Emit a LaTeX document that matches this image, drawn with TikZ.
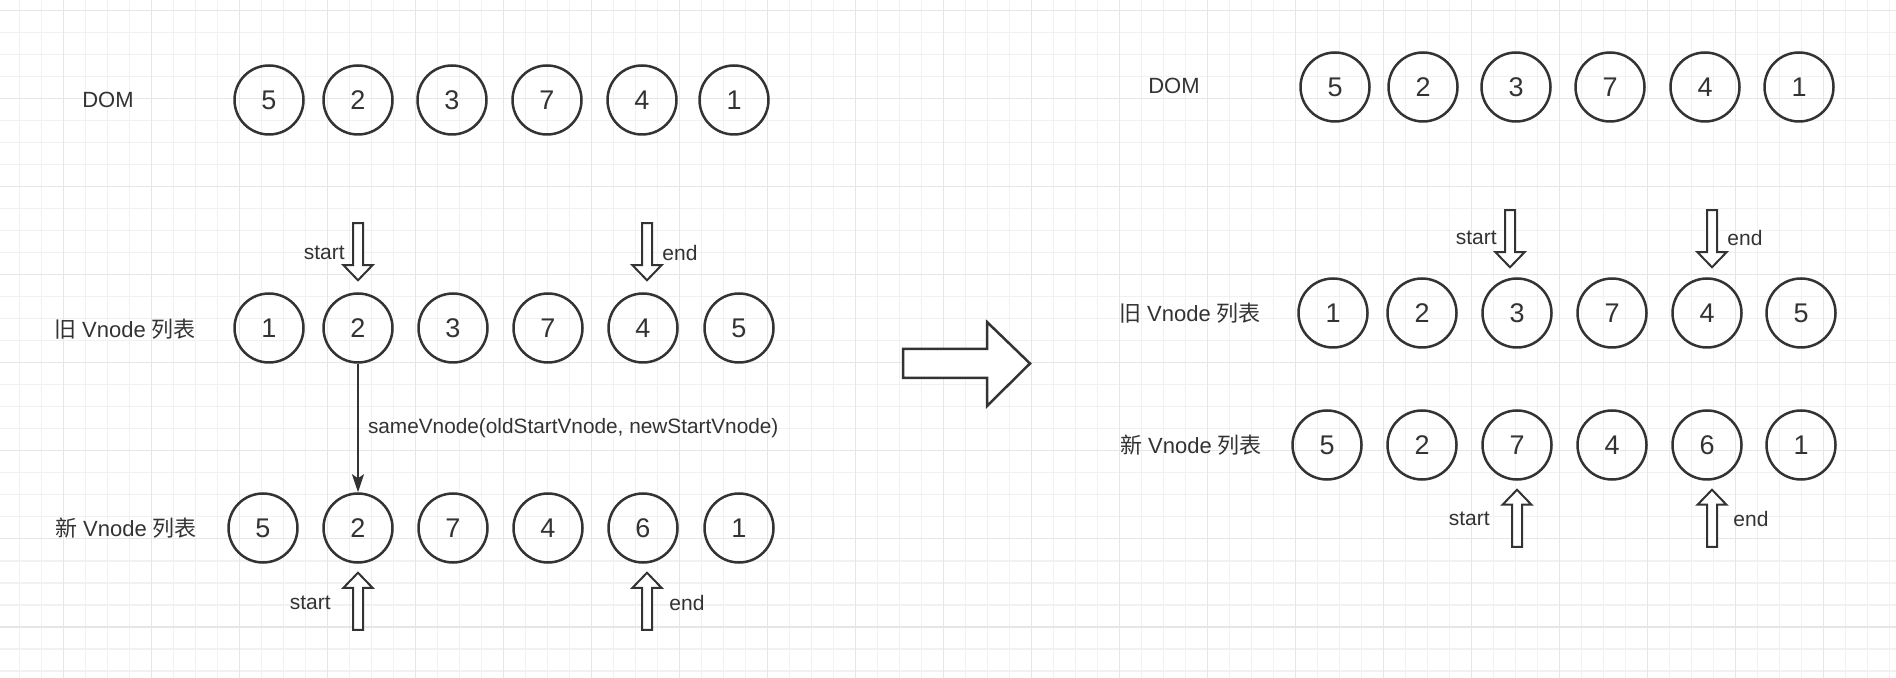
\documentclass[tikz,border=0pt]{standalone}
\usepackage{fontspec}
\setmainfont{Liberation Sans}
\newfontfamily\cjk{Noto Sans CJK SC}
\usepackage{tikz}
\usetikzlibrary{arrows.meta,calc}
\definecolor{inkgray}{HTML}{333333}
\definecolor{gridminor}{HTML}{F1F1F1}
\definecolor{gridmajor}{HTML}{E6E6E6}

\begin{document}
\begin{tikzpicture}[x=0.5pt, y=-0.5pt,
    vnode/.style={circle, draw=inkgray, line width=1.25pt, minimum size=34.5pt, inner sep=0pt, text=inkgray, font=\fontsize{13.5}{16}\selectfont},
    rowlabel/.style={text=inkgray, font=\fontsize{11}{13}\selectfont},
    tag/.style={text=inkgray, inner sep=0pt, font=\fontsize{10.5}{12}\selectfont},
    pointer/.pic={\draw[inkgray, line width=1pt, fill=white, line join=miter] (-5,0) -- (-5,42) -- (-14.5,42) -- (0,57) -- (14.5,42) -- (5,42) -- (5,0) -- cycle;}]
    \useasboundingbox (0,0) rectangle (1896,678);

    % Grid
    \fill[white] (0,0) rectangle (1896,678);
    \foreach \i in {0,...,85} \draw[gridminor, line width=0.8pt] (19.3+22*\i,0) -- (19.3+22*\i,678);
    \foreach \i in {0,...,30} \draw[gridminor, line width=0.8pt] (0,10.7+22*\i) -- (1896,10.7+22*\i);
    \foreach \i in {0,...,20} \draw[gridmajor, line width=0.8pt] (63.3+88*\i,0) -- (63.3+88*\i,678);
    \foreach \i in {0,...,7} \draw[gridmajor, line width=0.8pt] (0,10.7+88*\i) -- (1896,10.7+88*\i);

    % Left: DOM
    \node[rowlabel] (ldom) at (108,100) {DOM};
    \foreach \v/\x [count=\i] in {5/269,2/358,3/452,7/547,4/642,1/734}
        \node[vnode] (ld\i) at (\x,100) {\v};

    % Left: old vnodes
    \node[rowlabel] (lold) at (125,329) {{\cjk 旧} Vnode {\cjk 列表}};
    \foreach \v/\x [count=\i] in {1/269,2/358,3/453,7/548,4/643,5/739}
        \node[vnode] (lo\i) at (\x,328) {\v};
    \pic at ($(lo2.north)+(0,-69)$) {pointer};
    \pic at ($(lo5.north)+(4,-69)$) {pointer};
    \node[tag, anchor=east] (lostart) at (345,253) {start};
    \node[tag, anchor=west] (loend) at (662,253) {end};

    % Left: new vnodes
    \node[rowlabel] (lnew) at (126,528) {{\cjk 新} Vnode {\cjk 列表}};
    \foreach \v/\x [count=\i] in {5/263,2/358,7/453,4/548,6/643,1/739}
        \node[vnode] (ln\i) at (\x,528) {\v};
    \pic[rotate=180] at ($(ln2.south)+(0,66)$) {pointer};
    \pic[rotate=180] at ($(ln5.south)+(4,66)$) {pointer};
    \node[tag, anchor=east] (lnstart) at (331,603) {start};
    \node[tag, anchor=west] (lnend) at (669,603) {end};

    % Compare
    \draw[inkgray, line width=1pt, -{Stealth[length=9pt, width=6pt, inset=2pt]}] (lo2) -- (ln2)
        node[midway, right=4.5pt, tag, font=\fontsize{10.4}{12}\selectfont] (same) {sameVnode(oldStartVnode, newStartVnode)};

    % Big arrow
    \draw[inkgray, line width=1.25pt, fill=white] (903,349) -- (987,349) -- (987,322) -- (1030,363.5) -- (987,406) -- (987,378) -- (903,378) -- cycle;

    % Right: DOM
    \node[rowlabel] (rdom) at (1174,86) {DOM};
    \foreach \v/\x [count=\i] in {5/1335,2/1423,3/1516,7/1610,4/1705,1/1799}
        \node[vnode] (rd\i) at (\x,87) {\v};

    % Right: old vnodes
    \node[rowlabel] (rold) at (1190,313) {{\cjk 旧} Vnode {\cjk 列表}};
    \foreach \v/\x [count=\i] in {1/1333,2/1422,3/1517,7/1612,4/1707,5/1801}
        \node[vnode] (ro\i) at (\x,313) {\v};
    \pic at ($(ro3.north)+(-7,-67)$) {pointer};
    \pic at ($(ro5.north)+(5,-67)$) {pointer};
    \node[tag, anchor=east] (rostart) at (1497,238) {start};
    \node[tag, anchor=west] (roend) at (1727,238) {end};

    % Right: new vnodes
    \node[rowlabel] (rnew) at (1191,445) {{\cjk 新} Vnode {\cjk 列表}};
    \foreach \v/\x [count=\i] in {5/1327,2/1422,7/1517,4/1612,6/1707,1/1801}
        \node[vnode] (rn\i) at (\x,445) {\v};
    \pic[rotate=180] at ($(rn3.south)+(0,66)$) {pointer};
    \pic[rotate=180] at ($(rn5.south)+(5,66)$) {pointer};
    \node[tag, anchor=east] (rnstart) at (1490,519) {start};
    \node[tag, anchor=west] (rnend) at (1733,519) {end};

\end{tikzpicture}
\end{document}
